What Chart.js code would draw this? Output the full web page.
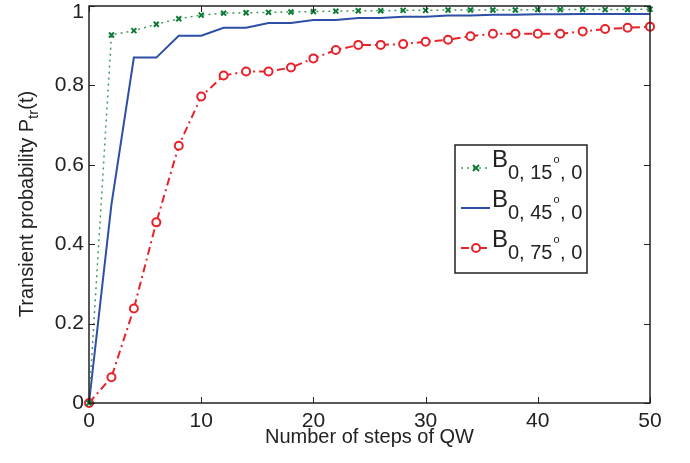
<!DOCTYPE html>
<html>
<head>
<meta charset="utf-8">
<script src="https://cdn.jsdelivr.net/npm/chart.js@4.4.1/dist/chart.umd.min.js"></script>
<style>
  html, body { margin: 0; padding: 0; background: #fff; }
  #wrap { position: relative; width: 690px; height: 463px; }
</style>
</head>
<body>
<div id="wrap"><canvas id="chart" width="690" height="463"></canvas></div>
<script>
// steps of the walk (every second step)
const steps = [0, 2, 4, 6, 8, 10, 12, 14, 16, 18, 20, 22, 24, 26, 28, 30, 32, 34, 36, 38, 40, 42, 44, 46, 48, 50];

// B(0,15deg,0) - green dotted
const p15 = [0, 0.927, 0.938, 0.954, 0.968, 0.977, 0.982, 0.983, 0.984, 0.985, 0.986, 0.987, 0.988, 0.988,
  0.989, 0.989, 0.99, 0.99, 0.99, 0.99, 0.991, 0.991, 0.991, 0.991, 0.991, 0.992];
// B(0,45deg,0) - blue solid
const p45 = [0, 0.5, 0.87, 0.87, 0.925, 0.925, 0.945, 0.945, 0.957, 0.957, 0.965, 0.965, 0.97, 0.97,
  0.973, 0.973, 0.976, 0.976, 0.978, 0.978, 0.979, 0.979, 0.98, 0.98, 0.98, 0.98];
// B(0,75deg,0) - red dash-dot
const p75 = [0, 0.065, 0.238, 0.455, 0.648, 0.772, 0.825, 0.835, 0.835, 0.845, 0.868, 0.889, 0.902, 0.902,
  0.904, 0.91, 0.915, 0.924, 0.93, 0.93, 0.93, 0.93, 0.936, 0.942, 0.945, 0.948];

const xTicks = [0, 10, 20, 30, 40, 50];
const yTicks = [0, 0.2, 0.4, 0.6, 0.8, 1];
const yTickLabels = ['0', '0.2', '0.4', '0.6', '0.8', '1'];

const legendItems = [
  { sub: '0, 15', color: '#0f7a35', line: '#3f9a60', dash: [2, 4], marker: 'cross' },
  { sub: '0, 45', color: '#2d4fa6', line: '#2d4fa6', dash: [], marker: null },
  { sub: '0, 75', color: '#e8222b', line: '#e8222b', dash: [8, 4, 2, 4], marker: 'circle' }
];

const FONT = '"Liberation Sans", Arial, sans-serif';

function toPoints(ys) {
  return steps.map((x, i) => ({ x: x, y: ys[i] }));
}

// frame, inward ticks, y labels, y title and legend
const matlabDecor = {
  id: 'matlabDecor',
  afterDatasetsDraw(chart) {
    const ctx = chart.ctx;
    const a = chart.chartArea;
    const xs = chart.scales.x, ys = chart.scales.y;
    ctx.save();
    ctx.strokeStyle = '#222';
    ctx.lineWidth = 1.5;
    ctx.strokeRect(a.left, a.top, a.right - a.left, a.bottom - a.top);
    ctx.lineWidth = 1;
    ctx.beginPath();
    xTicks.forEach(v => {
      const px = Math.round(xs.getPixelForValue(v)) + 0.5;
      ctx.moveTo(px, a.bottom); ctx.lineTo(px, a.bottom - 6);
      ctx.moveTo(px, a.top); ctx.lineTo(px, a.top + 6);
    });
    yTicks.forEach(v => {
      const py = Math.round(ys.getPixelForValue(v)) + 0.5;
      ctx.moveTo(a.left, py); ctx.lineTo(a.left + 6, py);
      ctx.moveTo(a.right, py); ctx.lineTo(a.right - 6, py);
    });
    ctx.stroke();

    // y tick labels (top one kept inside the page like the original)
    ctx.fillStyle = '#222';
    ctx.font = '21px ' + FONT;
    ctx.textAlign = 'right';
    ctx.textBaseline = 'middle';
    yTicks.forEach((v, i) => {
      const py = Math.max(ys.getPixelForValue(v), 12);
      ctx.fillText(yTickLabels[i], a.left - 5, py);
    });
    ctx.restore();
  },
  afterDraw(chart) {
    const ctx = chart.ctx;
    ctx.save();
    // y axis title with subscript
    const main = 'Transient probability P', sub = 'tr', tail = '(t)';
    ctx.fillStyle = '#222';
    ctx.textBaseline = 'alphabetic';
    ctx.font = '20px ' + FONT;
    const w1 = ctx.measureText(main).width, w3 = ctx.measureText(tail).width;
    ctx.font = '15px ' + FONT;
    const w2 = ctx.measureText(sub).width;
    const total = w1 + w2 + w3;
    ctx.translate(33, 204);
    ctx.rotate(-Math.PI / 2);
    let x = -total / 2;
    ctx.font = '20px ' + FONT;
    ctx.fillText(main, x, 0); x += w1;
    ctx.font = '15px ' + FONT;
    ctx.fillText(sub, x, 5); x += w2;
    ctx.font = '20px ' + FONT;
    ctx.fillText(tail, x, 0);
    ctx.restore();

    // legend box
    ctx.save();
    const bx = 455, by = 145, bw = 132, bh = 128;
    ctx.fillStyle = '#fff';
    ctx.fillRect(bx, by, bw, bh);
    ctx.strokeStyle = '#222';
    ctx.lineWidth = 1.5;
    ctx.strokeRect(bx, by, bw, bh);
    const rows = [168, 208, 248];
    legendItems.forEach((it, i) => {
      const y = rows[i];
      ctx.strokeStyle = it.line;
      ctx.lineWidth = it.marker === 'cross' ? 1.5 : 2;
      ctx.setLineDash(it.dash);
      ctx.beginPath();
      ctx.moveTo(461, y); ctx.lineTo(490, y);
      ctx.stroke();
      ctx.setLineDash([]);
      if (it.marker === 'cross') {
        ctx.strokeStyle = it.color; ctx.lineWidth = 2;
        ctx.beginPath();
        ctx.moveTo(473, y - 3); ctx.lineTo(479, y + 3);
        ctx.moveTo(479, y - 3); ctx.lineTo(473, y + 3);
        ctx.stroke();
      } else if (it.marker === 'circle') {
        ctx.strokeStyle = it.color; ctx.lineWidth = 2;
        ctx.fillStyle = '#fff';
        ctx.beginPath(); ctx.arc(476, y, 4, 0, Math.PI * 2); ctx.fill(); ctx.stroke();
      }
      ctx.fillStyle = '#222';
      ctx.textBaseline = 'alphabetic';
      ctx.font = '24px ' + FONT;
      ctx.fillText('B', 492, y - 1);
      ctx.font = '20px ' + FONT;
      ctx.fillText(it.sub, 508, y + 11);
      const sw = ctx.measureText(it.sub).width;
      ctx.font = '11px ' + FONT;
      ctx.fillText('o', 508 + sw + 1, y - 5);
      ctx.font = '20px ' + FONT;
      ctx.fillText(' , 0', 508 + sw + 2, y + 11);
    });
    ctx.restore();
  }
};

new Chart(document.getElementById('chart'), {
  type: 'line',
  data: {
    datasets: [
      {
        label: 'B 0, 15°, 0',
        data: toPoints(p15),
        borderColor: '#3f9a60',
        borderWidth: 1.5,
        borderDash: [2, 4],
        pointStyle: 'crossRot',
        pointRadius: 3.5,
        pointBorderWidth: 2,
        pointBorderColor: '#0f7a35',
        pointBackgroundColor: '#0f7a35',
        tension: 0
      },
      {
        label: 'B 0, 45°, 0',
        data: toPoints(p45),
        borderColor: '#2d4fa6',
        borderWidth: 2,
        pointRadius: 0,
        tension: 0
      },
      {
        label: 'B 0, 75°, 0',
        data: toPoints(p75),
        borderColor: '#e8222b',
        borderWidth: 2,
        borderDash: [8, 4, 2, 4],
        pointStyle: 'circle',
        pointRadius: 4,
        pointBorderWidth: 2,
        pointBorderColor: '#e8222b',
        pointBackgroundColor: '#fff',
        tension: 0
      }
    ]
  },
  options: {
    responsive: false,
    animation: false,
    clip: false,
    layout: { padding: { left: 0, right: 40, top: 5, bottom: 14 } },
    plugins: { legend: { display: false }, tooltip: { enabled: false } },
    scales: {
      x: {
        type: 'linear',
        min: 0, max: 50,
        afterBuildTicks: s => { s.ticks = xTicks.map(v => ({ value: v })); },
        afterFit: s => { s.height = 46; s.paddingLeft = 0; s.paddingRight = 0; },
        grid: { display: false },
        border: { display: false },
        ticks: { color: '#222', font: { family: FONT, size: 21 }, padding: -2, maxRotation: 0 },
        title: { display: true, text: 'Number of steps of QW', color: '#222', font: { family: FONT, size: 20 }, padding: 0 }
      },
      y: {
        min: 0, max: 1,
        afterBuildTicks: s => { s.ticks = yTicks.map(v => ({ value: v })); },
        afterFit: s => { s.width = 89; s.paddingTop = 0; s.paddingBottom = 0; },
        grid: { display: false },
        border: { display: false },
        ticks: { display: false }
      }
    }
  },
  plugins: [matlabDecor]
});
</script>
</body>
</html>
